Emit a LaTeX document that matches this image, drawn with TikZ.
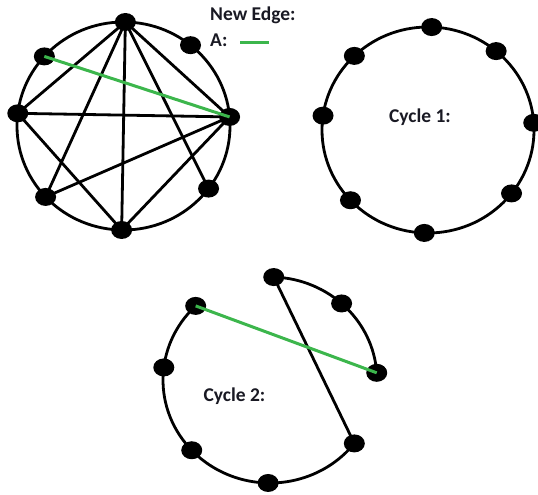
\documentclass[tikz,border=0pt]{standalone}
\usepackage{fontspec}
\setmainfont{Carlito}
\usetikzlibrary{shapes.geometric,calc}
\definecolor{edgegreen}{RGB}{60,182,76}
\definecolor{txtdark}{RGB}{25,25,35}
\tikzset{
  vtx/.style={ellipse,fill=black,draw=none,minimum width=21pt,minimum height=18pt,inner sep=0pt},
  ring/.style={line width=2.8pt,black},
  blk/.style={line width=2.8pt,black},
  grn/.style={line width=3pt,edgegreen},
  lbl/.style={font=\bfseries\fontsize{19.5}{22}\selectfont,inner sep=0pt,text=txtdark}
}
\begin{document}
\begin{tikzpicture}[x=1pt,y=1pt]
\useasboundingbox (0,0) rectangle (538,495);
\clip (0,0) rectangle (538,495);
% ---------- Graph 1 ----------
\coordinate (c1) at (123.5,369);
\draw[ring] (c1) ellipse[x radius=106.5pt,y radius=104pt];
\node[vtx] (g1t)  at ($(c1)+(89:106.5pt and 104pt)$) {};
\node[vtx] (g1ur) at ($(c1)+(51:106.5pt and 104pt)$) {};
\node[vtx] (g1r)  at ($(c1)+(5:106.5pt and 104pt)$) {};
\node[vtx] (g1lr) at ($(c1)+(-37:106.5pt and 104pt)$) {};
\node[vtx] (g1b)  at ($(c1)+(269:106.5pt and 104pt)$) {};
\node[vtx] (g1ll) at ($(c1)+(223:106.5pt and 104pt)$) {};
\node[vtx] (g1l)  at ($(c1)+(173:106.5pt and 104pt)$) {};
\node[vtx] (g1ul) at ($(c1)+(138:106.5pt and 104pt)$) {};
\draw[blk] (g1t.center) -- (g1l.center);
\draw[blk] (g1t.center) -- (g1ll.center);
\draw[blk] (g1t.center) -- (g1b.center);
\draw[blk] (g1t.center) -- (g1lr.center);
\draw[blk] (g1t.center) -- (g1r.center);
\draw[blk] (g1l.center) -- (g1r.center);
\draw[blk] (g1l.center) -- (g1b.center);
\draw[blk] (g1ll.center) -- (g1r.center);
\draw[blk] (g1r.center) -- (g1b.center);
\draw[grn] (g1ul.center) -- (g1r.center);
% ---------- Legend ----------
\node[lbl,anchor=base west] (newedge) at (210,474) {New Edge:};
\node[lbl,anchor=base west] (legA) at (210,448) {A:};
\coordinate (lgs) at (240,452);
\coordinate (lge) at (269,452);
\draw[grn] (lgs) -- (lge);
% ---------- Cycle 1 ----------
\coordinate (c2) at (428,365);
\draw[ring] (c2) ellipse[x radius=106pt,y radius=103pt];
\node[vtx] (k1t)  at ($(c2)+(88:106pt and 103pt)$) {};
\node[vtx] (k1ur) at ($(c2)+(50:106pt and 103pt)$) {};
\node[vtx] (k1r)  at ($(c2)+(4:106pt and 103pt)$) {};
\node[vtx] (k1lr) at ($(c2)+(-38:106pt and 103pt)$) {};
\node[vtx] (k1b)  at ($(c2)+(268:106pt and 103pt)$) {};
\node[vtx] (k1ll) at ($(c2)+(223:106pt and 103pt)$) {};
\node[vtx] (k1l)  at ($(c2)+(172:106pt and 103pt)$) {};
\node[vtx] (k1ul) at ($(c2)+(134:106pt and 103pt)$) {};
\node[lbl,anchor=base] (cyc1) at (420,372) {Cycle 1:};
% ---------- Cycle 2 ----------
\coordinate (c3) at (270,115);
\draw[ring] ($(c3)+(88:107pt and 103pt)$) arc[start angle=88,end angle=4,x radius=107pt,y radius=103pt];
\draw[ring] ($(c3)+(134:107pt and 103pt)$) arc[start angle=134,end angle=322,x radius=107pt,y radius=103pt];
\node[vtx] (k2t)  at ($(c3)+(88:107pt and 103pt)$) {};
\node[vtx] (k2ur) at ($(c3)+(48:107pt and 103pt)$) {};
\node[vtx] (k2r)  at ($(c3)+(4:107pt and 103pt)$) {};
\node[vtx] (k2lr) at ($(c3)+(-38:107pt and 103pt)$) {};
\node[vtx] (k2b)  at ($(c3)+(269:107pt and 103pt)$) {};
\node[vtx] (k2ll) at ($(c3)+(223:107pt and 103pt)$) {};
\node[vtx] (k2l)  at ($(c3)+(173:107pt and 103pt)$) {};
\node[vtx] (k2ul) at ($(c3)+(134:107pt and 103pt)$) {};
\draw[blk] (k2t.center) -- (k2lr.center);
\draw[grn] (k2ul.center) -- (k2r.center);
\node[lbl,anchor=base] (cyc2) at (234.5,93) {Cycle 2:};
\end{tikzpicture}
\end{document}
